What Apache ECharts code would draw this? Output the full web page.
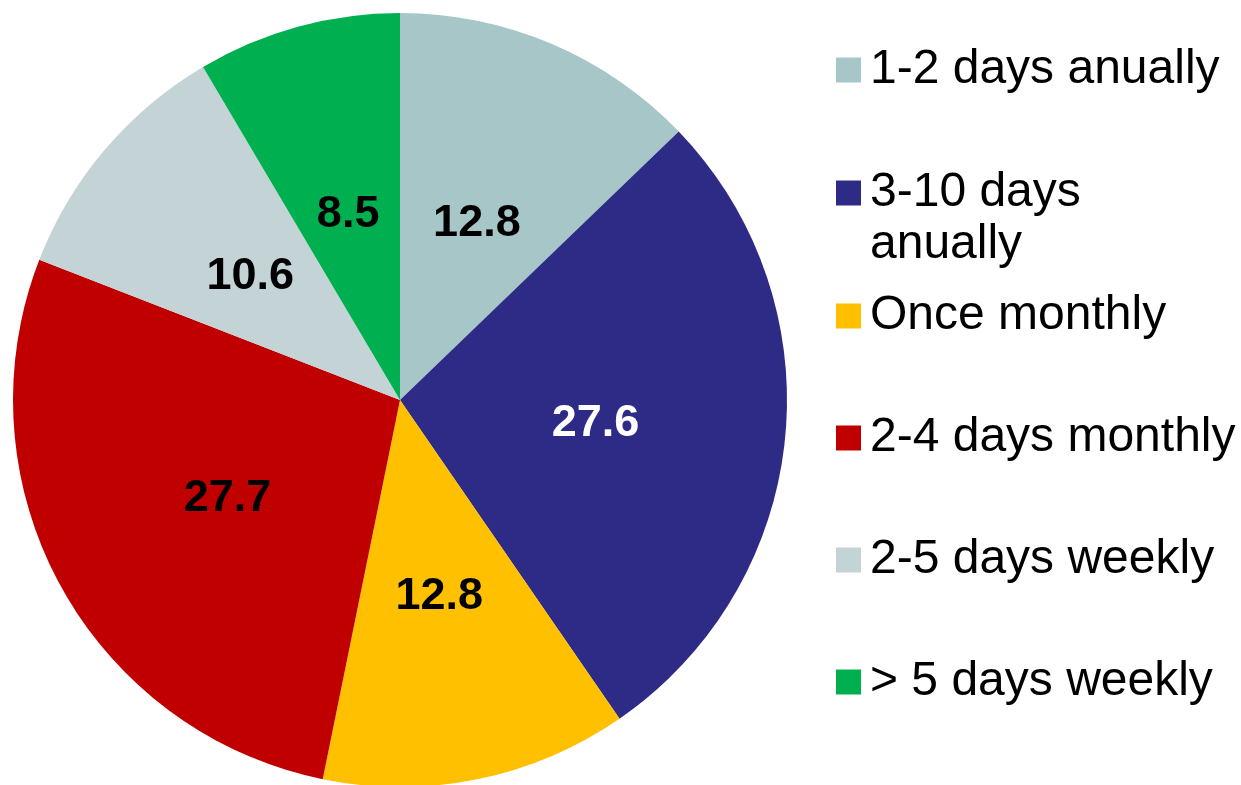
<!DOCTYPE html>
<html>
<head>
<meta charset="utf-8">
<script src="https://cdn.jsdelivr.net/npm/echarts@6/dist/echarts.min.js"></script>
<style>
html,body{margin:0;padding:0;background:#fff;}
#chart{width:1241px;height:785px;}
</style>
</head>
<body>
<div id="chart"></div>
<script>
const categories = ['1-2 days anually', '3-10 days anually', 'Once monthly', '2-4 days monthly', '2-5 days weekly', '> 5 days weekly'];
const legendLabels = ['1-2 days anually', '3-10 days\nanually', 'Once monthly', '2-4 days monthly', '2-5 days weekly', '> 5 days weekly'];
const values = [12.8, 27.6, 12.8, 27.7, 10.6, 8.5];
const colors = ['#A6C6C8', '#2E2B87', '#FFC000', '#C00000', '#C3D3D6', '#00B050'];
const labelColors = ['#000', '#fff', '#000', '#000', '#000', '#000'];

const FONT = '"Liberation Sans", Arial, sans-serif';
const legendCenters = [70, 193, 316, 438, 560, 682];
const LH = 52;

const legends = categories.map((name, i) => {
  const twoLine = legendLabels[i].indexOf('\n') >= 0;
  const text = twoLine ? ' \n' + legendLabels[i] : legendLabels[i];
  const nLines = text.split('\n').length;
  return {
    orient: 'vertical',
    left: 836,
    top: legendCenters[i] - (nLines * LH) / 2,
    padding: 0,
    itemWidth: 25,
    itemHeight: 25,
    icon: 'rect',
    selectedMode: false,
    data: [name],
    formatter: () => text,
    textStyle: {
      fontFamily: FONT,
      fontSize: 48,
      color: '#000',
      lineHeight: LH,
      padding: [0, 0, 0, 4]
    }
  };
});

const option = {
  backgroundColor: '#fff',
  animation: false,
  legend: legends,
  series: [{
    type: 'pie',
    center: [400, 400],
    radius: [0, 387],
    startAngle: 90,
    clockwise: true,
    avoidLabelOverlap: false,
    label: {
      show: true,
      position: 'inside',
      fontFamily: FONT,
      fontSize: 45,
      fontWeight: 'bold',
      offset: [0, 4],
      formatter: p => p.value.toFixed(1)
    },
    labelLine: { show: false },
    itemStyle: { borderWidth: 0 },
    emphasis: { disabled: true },
    data: categories.map((name, i) => ({
      name: name,
      value: values[i],
      itemStyle: { color: colors[i] },
      label: { color: labelColors[i] }
    }))
  }]
};

const chart = echarts.init(document.getElementById('chart'), null, { renderer: 'canvas' });
chart.setOption(option);
</script>
</body>
</html>
